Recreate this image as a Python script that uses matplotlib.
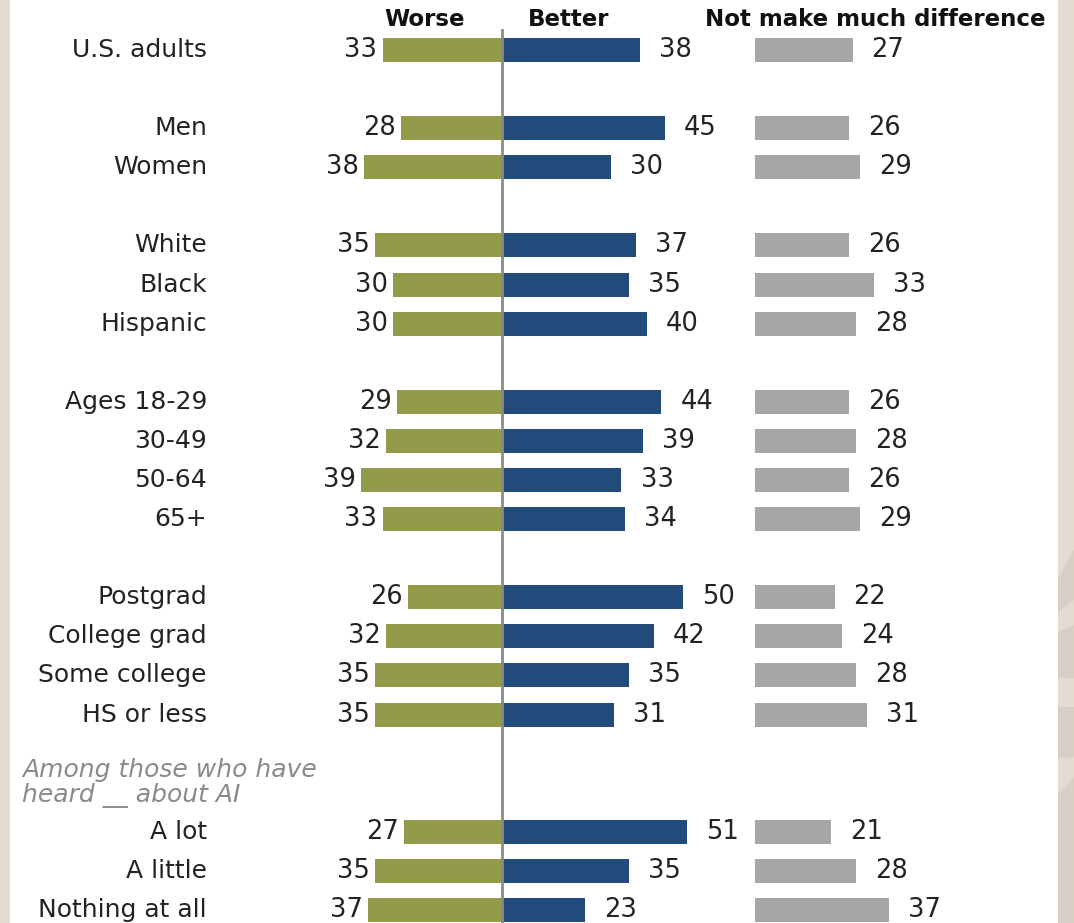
import matplotlib
matplotlib.use("Agg")
import matplotlib.pyplot as plt
from matplotlib.patches import Polygon
import numpy as np

plt.rcParams['font.family'] = ['DejaVu Sans']

categories = ["U.S. adults", "Men", "Women", "White", "Black", "Hispanic",
              "Ages 18-29", "30-49", "50-64", "65+",
              "Postgrad", "College grad", "Some college", "HS or less",
              "A lot", "A little", "Nothing at all"]
slots = [0, 2, 3, 5, 6, 7, 9, 10, 11, 12, 14, 15, 16, 17, 20, 21, 22]
worse = [33, 28, 38, 35, 30, 30, 29, 32, 39, 33, 26, 32, 35, 35, 27, 35, 37]
better = [38, 45, 30, 37, 35, 40, 44, 39, 33, 34, 50, 42, 35, 31, 51, 35, 23]
nodiff = [27, 26, 29, 26, 33, 28, 26, 28, 26, 29, 22, 24, 28, 31, 21, 28, 37]
headers = ["Worse", "Better", "Not make much difference"]
subgroup_note = "Among those who have\nheard __ about AI"

C_WORSE = "#939b4a"
C_BETTER = "#224a7b"
C_NODIFF = "#a6a6a6"
TXT = "#222222"
FS_LAB = 18
FS_VAL = 18.5

W, H = 1074, 923
fig = plt.figure(figsize=(W / 100, H / 100), dpi=100)
fig.patch.set_facecolor("#e3dad0")

# darker decorative patches on the right beige strip
for pts in [[(1058, 580), (1074, 550), (1074, 600), (1058, 612)],
            [(1058, 632), (1074, 625), (1074, 678), (1058, 678)],
            [(1058, 707), (1074, 707), (1074, 757), (1058, 758)],
            [(1058, 795), (1074, 778), (1074, 923), (1058, 923)]]:
    fig.patches.append(Polygon([(x / W, 1 - y / H) for x, y in pts], closed=True,
                               transform=fig.transFigure, facecolor="#d8cec4",
                               edgecolor="none", zorder=0))

left_px, right_px = 10, 1058
ax = fig.add_axes([left_px / W, 0, (right_px - left_px) / W, 1])
ax.set_facecolor("white")
for s in ax.spines.values():
    s.set_visible(False)
ax.set_xticks([])
ax.set_yticks([])

ppu = 3.62          # pixels per percentage unit
center_px = 502
ax.set_xlim(-(center_px - left_px) / ppu, (right_px - center_px) / ppu)
row_px = 39.09
top_row_px = 50
ax.set_ylim((H - top_row_px) / row_px, -top_row_px / row_px)

def py(p):
    return (p - top_row_px) / row_px

def px(p):
    return (p - center_px) / ppu

bh = 24 / row_px
grey_off = px(755)

y = np.array(slots, dtype=float)
ax.barh(y, [-v for v in worse], height=bh, color=C_WORSE, zorder=2)
ax.barh(y, better, height=bh, color=C_BETTER, zorder=2)
ax.barh(y, nodiff, left=grey_off, height=bh, color=C_NODIFF, zorder=2)

ax.plot([0, 0], [py(30), py(H + 5)], color="#8a8a8a", lw=2, zorder=3)

for yi, cat, w, b, n in zip(y, categories, worse, better, nodiff):
    ax.text(px(207), yi, cat, ha="right", va="center", fontsize=FS_LAB, color=TXT)
    ax.text(-w - 1.4, yi, str(w), ha="right", va="center", fontsize=FS_VAL, color=TXT)
    ax.text(b + 5.3, yi, str(b), ha="left", va="center", fontsize=FS_VAL, color=TXT)
    ax.text(grey_off + n + 5.2, yi, str(n), ha="left", va="center", fontsize=FS_VAL, color=TXT)

hy = py(19)
for hx, h in zip([425, 569, 875], headers):
    ax.text(px(hx), hy, h, ha="center", va="center", fontsize=16.5,
            fontweight="bold", color="#111111")

ax.text(px(22), py(783), subgroup_note, ha="left", va="center", fontsize=FS_LAB,
        style="italic", color="#8a8a8a", linespacing=1.0)

fig.savefig("out.png", dpi=100, facecolor=fig.get_facecolor())
